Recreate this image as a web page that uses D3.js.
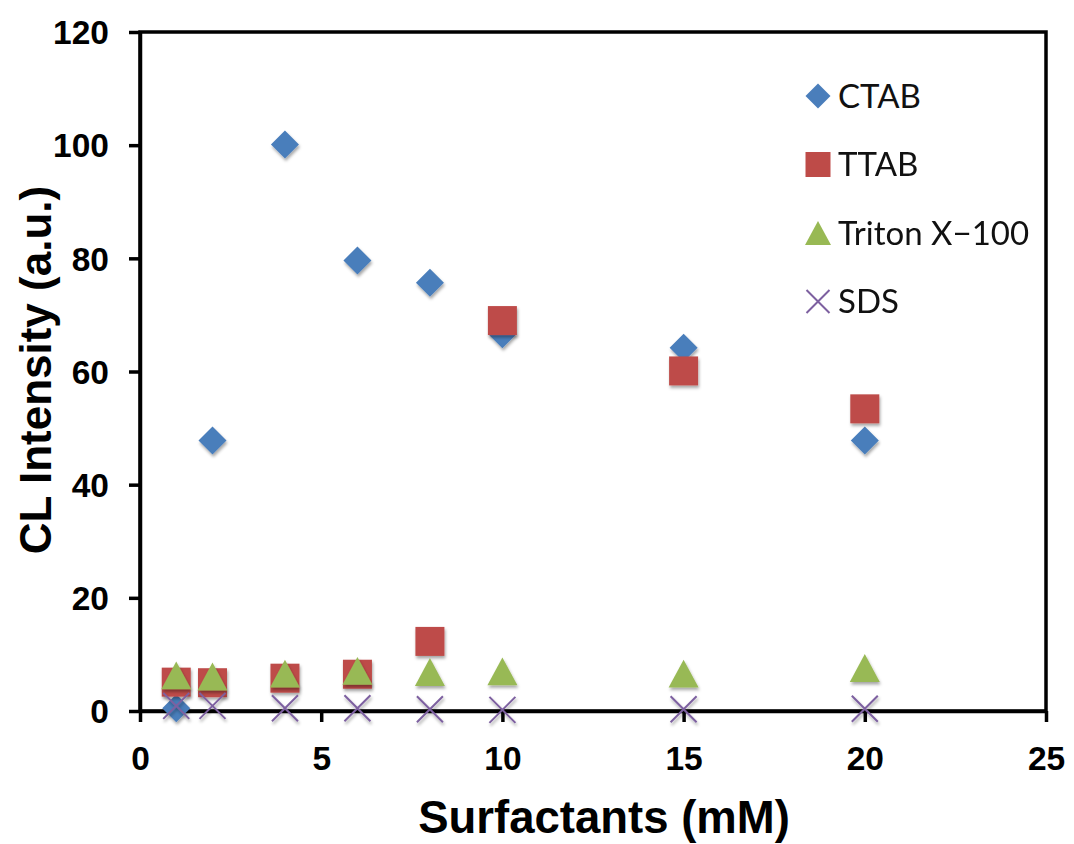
<!DOCTYPE html>
<html>
<head>
<meta charset="utf-8">
<script src="https://cdn.jsdelivr.net/npm/d3@7"></script>
<style>
  html, body { margin: 0; padding: 0; background: #fff; }
  svg { display: block; }
</style>
</head>
<body>
<svg id="chart" width="1074" height="844"></svg>
<script>
// ---- data ----
const xValues = [1, 2, 4, 6, 8, 10, 15, 20];
const ctab    = [0.5, 47.8, 100.1, 79.6, 75.7, 66.6, 64.2, 47.8];
const ttab    = [5.1, 5.0, 5.8, 6.5, 12.3, 69.0, 60.1, 53.4];
const triton  = [6.3, 6.1, 6.6, 7.1, 6.9, 7.0, 6.6, 7.6];
const sds     = [0.9, 0.9, 0.5, 0.5, 0.3, 0.2, 0.3, 0.4];
const seriesNames = ["CTAB", "TTAB", "Triton X\u2212100", "SDS"];
const xTicks = [0, 5, 10, 15, 20, 25];
const yTicks = [0, 20, 40, 60, 80, 100, 120];
const xTitle = "Surfactants (mM)";
const yTitle = "CL Intensity (a.u.)";

// ---- layout ----
const svg = d3.select("#chart");
const L = 140, R = 1046, T = 32, B = 711;
const x = d3.scaleLinear().domain([0, 25]).range([L, R]);
const y = d3.scaleLinear().domain([0, 120]).range([B, T]);

const colors = ["#4A7EBB", "#BE4B48", "#98B954", "#7D60A0"];

// custom symbols (size = half-extent in px)
const diamond = { draw(c, r) { c.moveTo(0, -r); c.lineTo(r, 0); c.lineTo(0, r); c.lineTo(-r, 0); c.closePath(); } };
const square  = { draw(c, r) { c.rect(-r, -r, 2 * r, 2 * r); } };
const triangle = { draw(c, r) { const h = r * 0.93; c.moveTo(0, -h); c.lineTo(r, h); c.lineTo(-r, h); c.closePath(); } };
const cross   = { draw(c, r) { c.moveTo(-r, -r); c.lineTo(r, r); c.moveTo(r, -r); c.lineTo(-r, r); } };
const shapes = [diamond, square, triangle, cross];

// shadow filter
const defs = svg.append("defs");
const f = defs.append("filter").attr("id", "shadow").attr("x", "-50%").attr("y", "-50%").attr("width", "200%").attr("height", "200%");
f.append("feDropShadow").attr("dx", 1).attr("dy", 2.5).attr("stdDeviation", 1.6)
  .attr("flood-color", "#000").attr("flood-opacity", 0.35);

// frame
svg.append("rect").attr("x", L).attr("y", T).attr("width", R - L).attr("height", B - T)
  .attr("fill", "none").attr("stroke", "#000").attr("stroke-width", 3.5);

// axes
const axisFont = "'Liberation Sans', Arial, sans-serif";
const gx = svg.append("g").attr("transform", `translate(0,${B})`)
  .call(d3.axisBottom(x).tickValues(xTicks).tickSize(11).tickSizeOuter(0).tickPadding(24));
const gy = svg.append("g").attr("transform", `translate(${L},0)`)
  .call(d3.axisLeft(y).tickValues(yTicks).tickSize(11).tickSizeOuter(0).tickPadding(20));
[gx, gy].forEach(g => {
  g.select(".domain").attr("stroke", "#000").attr("stroke-width", 3.5);
  g.selectAll(".tick line").attr("stroke", "#000").attr("stroke-width", 3.5);
  g.selectAll(".tick text").attr("fill", "#000")
    .style("font-family", axisFont).style("font-weight", "bold").style("font-size", "33.5px");
});
gy.selectAll(".tick text").attr("dy", "0.35em");

// axis titles
svg.append("text").attr("x", 604).attr("y", 833).attr("text-anchor", "middle")
  .style("font-family", axisFont).style("font-weight", "bold").style("font-size", "45.5px")
  .text(xTitle);
svg.append("text").attr("transform", `translate(51,${370}) rotate(-90)`).attr("text-anchor", "middle")
  .style("font-family", axisFont).style("font-weight", "bold").style("font-size", "44px")
  .text(yTitle);

// series
const series = [ctab, ttab, triton, sds];
const sizes = [14, 14.5, 15, 13];
series.forEach((vals, i) => {
  const g = svg.append("g").attr("filter", "url(#shadow)");
  const sym = d3.symbol().type(shapes[i]).size(sizes[i]);
  g.selectAll("path").data(xValues.map((xv, j) => [xv, vals[j]])).enter().append("path")
    .attr("transform", d => `translate(${x(d[0])},${y(d[1])})`)
    .attr("d", sym())
    .attr("fill", i === 3 ? "none" : colors[i])
    .attr("stroke", i === 3 ? colors[i] : "none")
    .attr("stroke-width", i === 3 ? 2 : 0);
});

// legend
const legendFont = "Lato, 'Open Sans', sans-serif";
const lsizes = [12.5, 12.5, 13, 11.5];
seriesNames.forEach((name, i) => {
  const cy = 96 + i * 68.5;
  const g = svg.append("g").attr("transform", `translate(818,${cy})`);
  g.append("path").attr("d", d3.symbol().type(shapes[i]).size(lsizes[i])())
    .attr("fill", i === 3 ? "none" : colors[i])
    .attr("stroke", i === 3 ? colors[i] : "none")
    .attr("stroke-width", i === 3 ? 2 : 0);
  g.append("text").attr("x", 20).attr("y", 0).attr("dy", "0.36em")
    .style("font-family", legendFont).style("font-size", "33px").attr("fill", "#111")
    .text(name);
});
</script>
</body>
</html>
